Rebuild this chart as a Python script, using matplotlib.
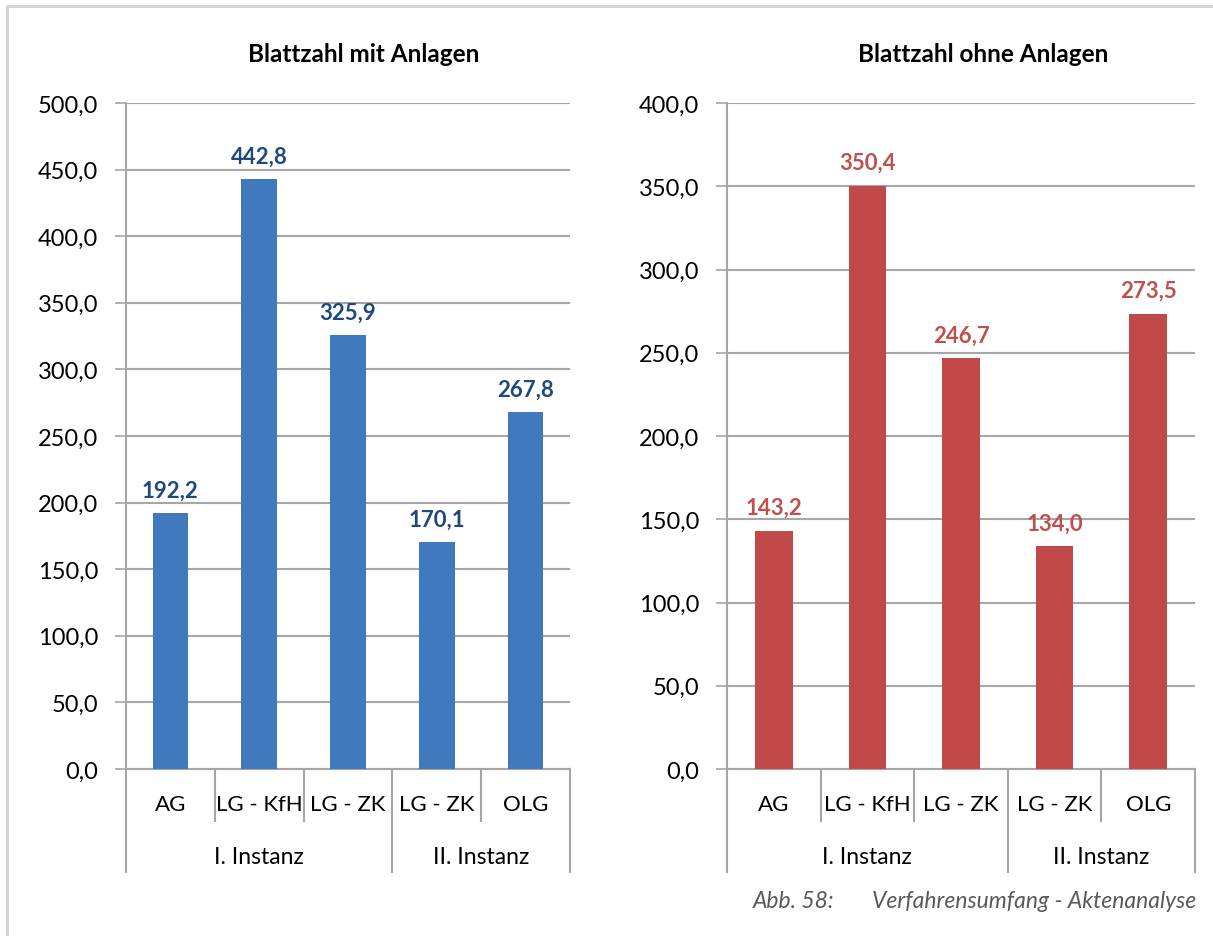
import matplotlib
matplotlib.use("Agg")
import matplotlib.pyplot as plt
from matplotlib.lines import Line2D
from matplotlib.ticker import FuncFormatter

# -----------------------------------------------------
# Verfahrensumfang - Aktenanalyse (Abb. 58)
# -----------------------------------------------------

categories = ["AG", "LG - KfH", "LG - ZK", "LG - ZK", "OLG"]
groups = ["I. Instanz", "II. Instanz"]
group_sizes = [3, 2]

mit_anlagen = [192.2, 442.8, 325.9, 170.1, 267.8]
ohne_anlagen = [143.2, 350.4, 246.7, 134.0, 273.5]

plt.rcParams["font.family"] = ["Lato", "DejaVu Sans"]

W, H = 1213, 937
fig = plt.figure(figsize=(W / 100, H / 100), dpi=100)

grid_col = "#a6a6a6"


def de(v):
    return f"{v:.1f}".replace(".", ",")


def draw_panel(left_px, right_px, values, ymax, bar_col, lab_col, title,
               title_x):
    top_px, zero_px = 104, 770
    ax = fig.add_axes([left_px / W, (H - zero_px) / H,
                       (right_px - left_px) / W, (zero_px - top_px) / H])
    x = range(len(values))
    bars = ax.bar(x, values, width=0.4, color=bar_col, zorder=3)
    for b, v in zip(bars, values):
        ax.annotate(de(v), (b.get_x() + b.get_width() / 2, v),
                    xytext=(0, 9), textcoords="offset points",
                    ha="center", va="bottom", fontsize=16,
                    fontweight="bold", color=lab_col)
    ax.set_xlim(-0.5, len(values) - 0.5)
    ax.set_ylim(0, ymax)
    ax.set_yticks(range(0, ymax + 1, 50))
    ax.yaxis.set_major_formatter(FuncFormatter(lambda v, p: de(v)))
    ax.tick_params(axis="y", length=8, width=1.2, color=grid_col,
                   labelsize=17, pad=12)
    ax.set_xticks([])
    ax.grid(axis="y", color=grid_col, linewidth=1.5, zorder=0)
    for s in ["top", "right"]:
        ax.spines[s].set_visible(False)
    ax.spines["left"].set_color(grid_col)
    ax.spines["left"].set_linewidth(1.5)
    ax.spines["bottom"].set_color(grid_col)
    ax.spines["bottom"].set_linewidth(1.5)

    fig.text(title_x / W, (H - 55) / H, title, ha="center", va="center",
             fontsize=17.5, fontweight="bold")

    # multi level category axis
    h = zero_px - top_px
    trans = ax.get_xaxis_transform()
    for i, c in enumerate(categories):
        ax.text(i, -35 / h, c, transform=trans, ha="center", va="center",
                fontsize=16)
    bounds = [0]
    for n in group_sizes:
        bounds.append(bounds[-1] + n)
    for k in range(len(categories) + 1):
        y_end = -103 / h if k in bounds else -52 / h
        ax.add_line(Line2D([k - 0.5, k - 0.5], [0, y_end], transform=trans,
                           color=grid_col, linewidth=1.5, clip_on=False))
    for g, a, b in zip(groups, bounds[:-1], bounds[1:]):
        ax.text((a + b - 1) / 2, -88 / h, g, transform=trans, ha="center",
                va="center", fontsize=16.5)
    return ax


draw_panel(126, 570, mit_anlagen, 500, "#4079bd", "#1f497d",
           "Blattzahl mit Anlagen", 364)
draw_panel(727, 1195, ohne_anlagen, 400, "#c1494a", "#c0504d",
           "Blattzahl ohne Anlagen", 983)

# outer frame
fig.add_artist(Line2D([7 / W, 7 / W, 1.0], [0.0, 1 - 7 / H, 1 - 7 / H],
                      transform=fig.transFigure, color="#d0d0d0",
                      linewidth=2))

# caption
fig.text(753 / W, (H - 902) / H, "Abb. 58:", ha="left", va="center",
         fontsize=16.5, style="italic", color="#595959")
fig.text(1196 / W, (H - 902) / H, "Verfahrensumfang - Aktenanalyse",
         ha="right", va="center", fontsize=16.5, style="italic",
         color="#595959")

fig.savefig("out.png", dpi=100)
